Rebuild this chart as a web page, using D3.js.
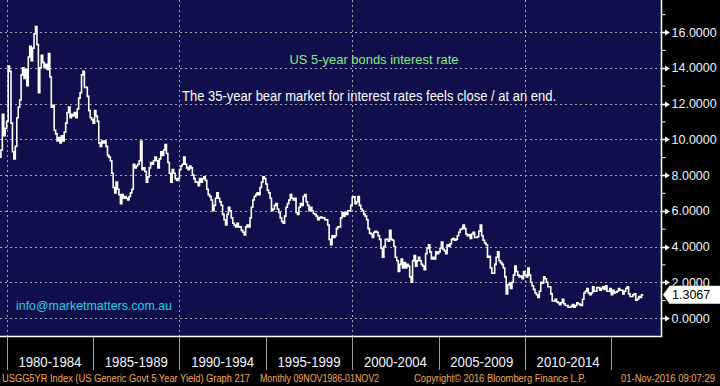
<!DOCTYPE html>
<html>
<head>
<meta charset="utf-8">
<script src="https://cdnjs.cloudflare.com/ajax/libs/d3/7.8.5/d3.min.js"></script>
<style>
  body { margin: 0; background: #000; }
  svg { display: block; }
</style>
</head>
<body>
<div id="vis-container"></div>
<script>
// US 5yr govt yield, monthly, first point is Aug 1979
var firstYear = 1979, firstMonth = 7;
var yields1979 = [9.0, 9.4, 11.4, 10.2, 10.6];
var yields1980s = [
  11.0, 14.1, 13.8, 10.9, 9.3, 8.9, 9.6, 11.2, 11.8, 12.2, 13.6, 14.0,
  13.4, 13.9, 13.0, 14.6, 15.2, 14.4, 15.1, 15.9, 16.3, 15.3, 12.6, 14.0,
  14.7, 14.3, 14.0, 14.2, 13.9, 14.8, 13.5, 11.8, 11.9, 10.5, 10.3, 9.9,
  10.1, 9.8, 10.2, 9.9, 10.4, 10.9, 11.5, 11.8, 11.2, 11.4, 11.3, 11.5,
  11.2, 11.7, 12.3, 12.6, 13.6, 13.8, 12.9, 12.9, 12.4, 11.6, 11.2, 11.1,
  10.9, 11.6, 11.3, 11.0, 9.8, 9.6, 9.9, 9.8, 9.9, 9.6, 9.1, 9.0,
  8.8, 8.1, 7.3, 7.0, 7.6, 7.2, 6.9, 6.4, 6.9, 6.7, 6.8, 6.7,
  6.6, 6.8, 7.0, 7.2, 8.6, 8.4, 8.5, 8.6, 8.8, 9.9, 8.3, 8.4,
  8.2, 7.6, 7.9, 8.4, 8.7, 8.6, 8.8, 9.0, 8.8, 8.4, 8.9, 9.3,
  9.1, 9.4, 9.7, 9.2, 8.7, 8.1, 7.6, 8.3, 8.1, 7.8, 7.7, 7.8
];
var yields1990s = [
  8.3, 8.5, 8.6, 9.0, 8.6, 8.4, 8.3, 8.5, 8.4, 8.0, 7.8, 7.6,
  7.6, 7.4, 7.8, 7.6, 7.8, 7.9, 7.7, 7.2, 6.9, 6.8, 6.6, 6.0,
  6.3, 6.7, 7.0, 6.7, 6.5, 6.3, 5.8, 5.5, 5.2, 5.8, 6.2, 6.0,
  5.6, 5.3, 5.2, 5.1, 5.3, 5.1, 5.1, 4.9, 4.8, 4.65, 5.1, 5.2,
  5.1, 5.6, 6.2, 6.6, 6.8, 6.9, 7.0, 6.9, 7.3, 7.6, 7.9, 7.8,
  7.5, 7.15, 7.0, 6.7, 6.0, 6.1, 6.3, 6.4, 6.1, 5.9, 5.6, 5.4,
  5.3, 5.7, 6.2, 6.4, 6.6, 6.9, 6.7, 6.6, 6.7, 5.9, 5.8, 6.2,
  6.4, 6.3, 6.8, 6.9, 6.5, 6.3, 6.0, 6.2, 6.0, 5.85, 5.8, 5.7,
  5.5, 5.6, 5.65, 5.6, 5.6, 5.5, 5.5, 5.2, 4.4, 4.1, 4.6, 4.5,
  4.6, 5.0, 5.1, 5.1, 5.6, 5.9, 5.7, 5.9, 5.8, 6.0, 6.0, 6.3
];
var yields2000s = [
  6.75, 6.8, 6.4, 6.5, 6.8, 6.3, 6.1, 6.0, 5.8, 5.7, 5.5, 5.0,
  4.75, 4.7, 4.5, 4.8, 4.85, 4.8, 4.6, 4.4, 3.9, 3.4, 4.0, 4.4,
  4.4, 4.3, 4.9, 4.4, 4.35, 4.0, 3.4, 3.2, 2.6, 3.0, 3.3, 2.8,
  3.1, 2.8, 3.0, 2.9, 2.3, 2.0, 3.2, 3.5, 2.9, 3.2, 3.4, 3.2,
  3.0, 2.9, 2.7, 3.6, 3.9, 4.1, 3.7, 3.3, 3.4, 3.3, 3.7, 3.6,
  3.7, 3.9, 4.25, 3.85, 3.75, 3.6, 4.1, 4.0, 4.15, 4.4, 4.45, 4.35,
  4.4, 4.6, 4.8, 4.95, 5.0, 5.2, 5.0, 4.7, 4.6, 4.65, 4.45, 4.7,
  4.8, 4.5, 4.5, 4.55, 4.85, 5.2, 4.6, 4.35, 4.2, 4.1, 3.4, 3.45,
  2.8, 2.5, 2.5, 3.0, 3.4, 3.7, 3.2, 3.1, 3.0, 2.8, 2.3, 1.35,
  1.85, 1.95, 1.65, 2.0, 2.4, 2.9, 2.6, 2.4, 2.3, 2.35, 2.2, 2.6
];
var yields2010s = [
  2.4, 2.3, 2.8, 2.4, 2.0, 1.8, 1.6, 1.4, 1.3, 1.15, 1.5, 2.0,
  1.95, 2.3, 2.2, 2.0, 1.75, 1.75, 1.35, 0.95, 0.95, 1.05, 0.9, 0.85,
  0.75, 0.85, 1.05, 0.8, 0.7, 0.7, 0.6, 0.6, 0.65, 0.75, 0.6, 0.7,
  0.85, 0.8, 0.75, 0.7, 1.05, 1.4, 1.5, 1.65, 1.4, 1.3, 1.4, 1.75,
  1.5, 1.5, 1.7, 1.7, 1.55, 1.65, 1.75, 1.6, 1.8, 1.5, 1.5, 1.65,
  1.3, 1.55, 1.4, 1.45, 1.5, 1.65, 1.55, 1.55, 1.35, 1.5, 1.65, 1.75,
  1.35, 1.2, 1.2, 1.3, 1.35, 1.0, 1.05, 1.2, 1.15, 1.3, 1.3067
];
var lastValue = 1.3067;

var yTicks = [0, 2, 4, 6, 8, 10, 12, 14, 16];
var yMinorTicks = [1, 3, 5, 7, 9, 11, 13, 15, 17];
var gridYears = [1980, 1990, 2000, 2010];
var periodLabels = ["1980-1984", "1985-1989", "1990-1994", "1995-1999", "2000-2004", "2005-2009", "2010-2014"];
var periodStarts = [1980, 1985, 1990, 1995, 2000, 2005, 2010, 2015];
var footerTexts = [
  { text: "USGG5YR Index (US Generic Govt 5 Year Yield) Graph 217", x: 2, w: 248 },
  { text: "Monthly 09NOV1986-01NOV2", x: 260, w: 119 },
  { text: "Copyright\u00a9 2016 Bloomberg Finance L.P.", x: 414, w: 172 },
  { text: "01-Nov-2016 09:07:29", x: 621, w: 94 }
];

var W = 720, H = 386;
var plotW = 661, plotH = 336;

var yields = [].concat(yields1979, yields1980s, yields1990s, yields2000s, yields2010s);
var data = yields.map(function(v, i) {
  return { date: new Date(firstYear, firstMonth + i, 1), value: v };
});

var x = d3.scaleTime()
  .domain([new Date(1980, 0, 1), new Date(2015, 0, 1)])
  .range([6.7, 611.3]);
var y = d3.scaleLinear()
  .domain([0, 16])
  .range([318, 32]);

var svg = d3.select("#vis-container").append("svg")
  .attr("width", W)
  .attr("height", H)
  .style("font-family", "'Liberation Sans', Arial, sans-serif");

svg.append("rect").attr("width", W).attr("height", H).attr("fill", "#000");
svg.append("rect").attr("width", plotW).attr("height", plotH).attr("fill", "#100f4b");

// dashed grid
svg.append("g").selectAll("line").data(yTicks).enter().append("line")
  .attr("x1", 0).attr("x2", plotW)
  .attr("y1", function(d) { return Math.round(y(d)) + 0.5; })
  .attr("y2", function(d) { return Math.round(y(d)) + 0.5; })
  .attr("stroke", "#a4a4b4").attr("stroke-dasharray", "2,3");
svg.append("g").selectAll("line").data(gridYears).enter().append("line")
  .attr("x1", function(d) { return Math.round(x(new Date(d, 0, 1))) + 0.5; })
  .attr("x2", function(d) { return Math.round(x(new Date(d, 0, 1))) + 0.5; })
  .attr("y1", 0).attr("y2", plotH)
  .attr("stroke", "#a4a4b4").attr("stroke-dasharray", "2,3");

// annotations
svg.append("text").attr("x", 374).attr("y", 64)
  .attr("text-anchor", "middle").attr("fill", "#80ee80")
  .style("font-size", "13.5px")
  .attr("textLength", 169).attr("lengthAdjust", "spacingAndGlyphs")
  .text("US 5-year bonds interest rate");
svg.append("text").attr("x", 369).attr("y", 101)
  .attr("text-anchor", "middle").attr("fill", "#ffffff")
  .style("font-size", "14px")
  .attr("textLength", 374).attr("lengthAdjust", "spacingAndGlyphs")
  .text("The 35-year bear market for interest rates feels close / at an end.");
svg.append("text").attr("x", 16).attr("y", 310)
  .attr("fill", "#22d0e4")
  .style("font-size", "13.5px")
  .attr("textLength", 156).attr("lengthAdjust", "spacingAndGlyphs")
  .text("info@marketmatters.com.au");

// the line
svg.append("clipPath").attr("id", "plotclip")
  .append("rect").attr("width", plotW).attr("height", plotH);
var line = d3.line()
  .x(function(d) { return x(d.date); })
  .y(function(d) { return y(d.value); })
  .curve(d3.curveStepAfter);
svg.append("path")
  .datum(data)
  .attr("clip-path", "url(#plotclip)")
  .attr("fill", "none")
  .attr("stroke", "#ffffff")
  .attr("stroke-width", 1.6)
  .attr("d", line);

// frame
svg.append("line").attr("x1", plotW + 0.5).attr("x2", plotW + 0.5)
  .attr("y1", 0).attr("y2", plotH + 1).attr("stroke", "#fff").attr("stroke-width", 1.5);
svg.append("line").attr("x1", 0).attr("x2", plotW + 1)
  .attr("y1", plotH + 0.5).attr("y2", plotH + 0.5).attr("stroke", "#fff").attr("stroke-width", 1.5);

// right axis
var yAxis = d3.axisRight(y)
  .tickValues(yTicks)
  .tickSize(0)
  .tickPadding(10)
  .tickFormat(d3.format(".4f"));
var axisG = svg.append("g")
  .attr("transform", "translate(" + (plotW + 0.5) + ",0)")
  .call(yAxis);
axisG.select(".domain").remove();
axisG.selectAll("text")
  .attr("fill", "#eef2ff")
  .style("font-size", "12.5px")
  .style("font-family", "'Liberation Sans', Arial, sans-serif");

var minorAxis = d3.axisRight(y)
  .tickValues(yMinorTicks)
  .tickSize(4)
  .tickFormat("");
var minorG = svg.append("g")
  .attr("transform", "translate(" + (plotW + 0.5) + ",0)")
  .call(minorAxis);
minorG.select(".domain").remove();
minorG.selectAll("line").attr("stroke", "#fff");

svg.append("g").selectAll("path").data(yTicks).enter().append("path")
  .attr("d", function(d) {
    var t = Math.round(y(d)) + 0.5;
    return "M662," + (t - 0.7) + "L665," + (t - 0.7) + "L665," + (t - 3) + "L670," + t +
           "L665," + (t + 3) + "L665," + (t + 0.7) + "L662," + (t + 0.7) + "Z";
  })
  .attr("fill", "#fff");

// last value flag
var ly = y(lastValue);
svg.append("path")
  .attr("d", "M663," + ly + "L669.5," + (ly - 9) + "L720," + (ly - 9) + "L720," + (ly + 9) + "L669.5," + (ly + 9) + "Z")
  .attr("fill", "#ffffff");
svg.append("text").attr("x", 672).attr("y", ly + 4.5)
  .attr("fill", "#000")
  .style("font-size", "12.5px")
  .text(d3.format(".4f")(lastValue));

// period boxes under the plot
svg.append("g").selectAll("line").data(periodStarts).enter().append("line")
  .attr("x1", function(d) { return Math.round(x(new Date(d, 0, 1))) + 0.5; })
  .attr("x2", function(d) { return Math.round(x(new Date(d, 0, 1))) + 0.5; })
  .attr("y1", plotH + 1).attr("y2", 370)
  .attr("stroke", "#9c9c9c");
svg.append("g").selectAll("text").data(periodLabels).enter().append("text")
  .attr("x", function(d, i) {
    return (x(new Date(periodStarts[i], 0, 1)) + x(new Date(periodStarts[i + 1], 0, 1))) / 2;
  })
  .attr("y", 367)
  .attr("text-anchor", "middle")
  .attr("fill", "#f2f4ff")
  .style("font-size", "14px")
  .attr("textLength", 63).attr("lengthAdjust", "spacingAndGlyphs")
  .text(function(d) { return d; });

// status line
svg.append("g").selectAll("text").data(footerTexts).enter().append("text")
  .attr("x", function(d) { return d.x; })
  .attr("y", 382)
  .attr("fill", "#f4aa50")
  .style("font-size", "10px")
  .attr("textLength", function(d) { return d.w; })
  .attr("lengthAdjust", "spacingAndGlyphs")
  .text(function(d) { return d.text; });
</script>
</body>
</html>
